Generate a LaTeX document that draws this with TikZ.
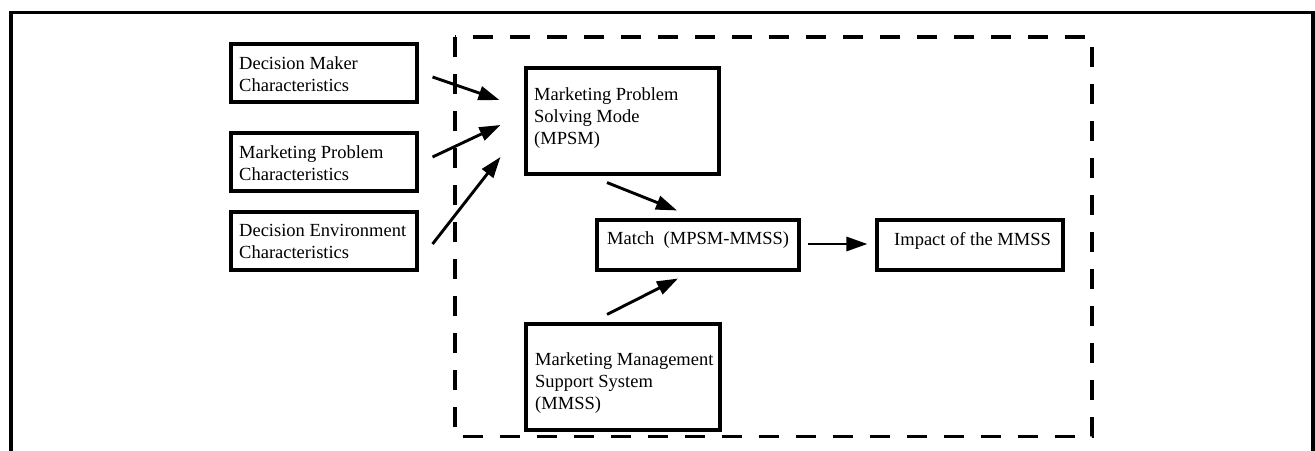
\documentclass[tikz,border=0pt]{standalone}
\usepackage{fontspec}
\setmainfont{Liberation Serif}
\usetikzlibrary{arrows.meta}
\begin{document}
\begin{tikzpicture}[x=1pt,y=-1pt,
  box/.style={draw, line width=3.1pt, rectangle, inner sep=0pt},
  txt/.style={anchor=north west, align=left, inner sep=0pt,
              font=\fontsize{18.5}{22}\selectfont},
  arr/.style={line width=2.9pt, -{Triangle[length=21pt,width=14pt]}}]
\useasboundingbox (0,0) rectangle (1315,450);

% outer frame, open at the bottom
\draw[line width=3.2pt] (11,452) -- (11,12.5) -- (1313,12.5) -- (1313,452);

% dashed boundary of the model
\draw[line width=3.1pt, dash pattern=on 20pt off 17pt] (455,37) rectangle (1092,436.5);

% input boxes
\node[box, minimum width=186pt, minimum height=58pt] (dm) at (324,73) {};
\node[box, minimum width=186pt, minimum height=58pt] (mp) at (324,162) {};
\node[box, minimum width=186pt, minimum height=58pt] (de) at (324,241) {};
\node[txt] (dm-t) at (239,56.4) {Decision Maker\\Characteristics};
\node[txt] (mp-t) at (239,145.4) {Marketing Problem\\Characteristics};
\node[txt] (de-t) at (239,224.4) {Decision Environment\\Characteristics};

% core boxes
\node[box, minimum width=193pt, minimum height=106pt] (mpsm) at (622.5,121) {};
\node[txt] (mpsm-t) at (534,87.4) {Marketing Problem\\Solving Mode\\(MPSM)};

\node[box, minimum width=202pt, minimum height=50pt] (match) at (698,245) {};
\node[txt] (match-t) at (607,231.2) {Match\ \ (MPSM-MMSS)};

\node[box, minimum width=186pt, minimum height=50pt] (impact) at (970,245) {};
\node[txt] (impact-t) at (894,232.4) {Impact of the MMSS};

\node[box, minimum width=194pt, minimum height=106pt] (mmss) at (623,377) {};
\node[txt] (mmss-t) at (535,352.4) {Marketing Management\\Support System\\(MMSS)};

% connectors
\draw[arr] ([shift={(14,4)}]dm.east) -- ([shift={(-25,-21)}]mpsm.west);
\draw[arr] ([shift={(14,-5)}]mp.east) -- ([shift={(-24,4)}]mpsm.west);
\draw[arr] ([shift={(14,3)}]de.east) -- ([shift={(-24,36)}]mpsm.west);
\draw[arr] ([shift={(-15.5,7)}]mpsm.south) -- ([shift={(-21,-8)}]match.north);
\draw[arr] ([shift={(-16,-8)}]mmss.north) -- ([shift={(-20,7)}]match.south);
\draw[arr] ([shift={(7,-1)}]match.east) -- ([shift={(-8,-1)}]impact.west);
\end{tikzpicture}
\end{document}
